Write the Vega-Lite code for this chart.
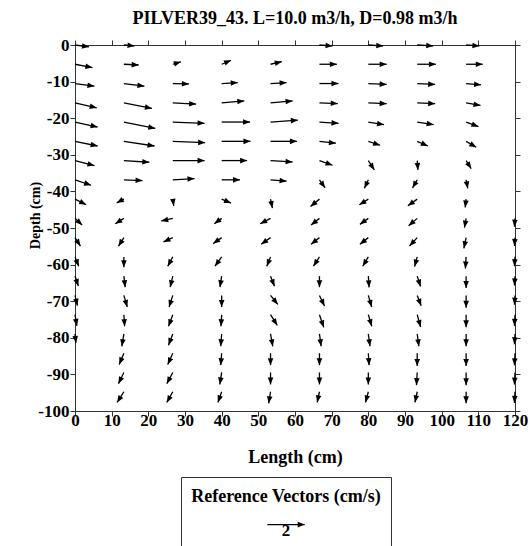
{
  "$schema": "https://vega.github.io/schema/vega-lite/v6.json",
  "padding": {"left": 28, "top": 9, "right": 0, "bottom": 0},
  "background": "white",
  "spacing": 9,
  "config": {
    "view": {"stroke": "#333", "strokeWidth": 1},
    "font": "Liberation Serif",
    "axis": {
      "domainColor": "#333", "tickColor": "#333", "grid": false,
      "labelFont": "Liberation Serif", "labelFontWeight": "bold", "labelFontSize": 17, "labelColor": "black",
      "titleFont": "Liberation Serif", "titleFontWeight": "bold", "titleFontSize": 18, "titleColor": "black",
      "tickSize": 5, "labelFlush": false, "labelOverlap": false, "labelBound": false
    },
    "title": {"font": "Liberation Serif", "fontWeight": "bold", "fontSize": 18, "color": "black"}
  },
  "vconcat": [
    {
      "width": 440,
      "height": 366,
      "title": {"text": "PILVER39_43. L=10.0 m3/h, D=0.98 m3/h", "offset": 8},
      "data": {"values": [
        {"x":0,"y":0,"u":0.75,"v":-0.1},{"x":0,"y":-5.26,"u":0.93,"v":-0.18},{"x":0,"y":-10.53,"u":1.04,"v":-0.14},{"x":0,"y":-15.79,"u":1.16,"v":-0.27},{"x":0,"y":-21.05,"u":1.21,"v":-0.27},{"x":0,"y":-26.32,"u":1.21,"v":-0.25},{"x":0,"y":-31.58,"u":1.04,"v":-0.27},{"x":0,"y":-36.84,"u":0.86,"v":-0.29},{"x":0,"y":-42.11,"u":0.6,"v":-0.3},{"x":0,"y":-47.37,"u":0.38,"v":-0.36},{"x":0,"y":-52.63,"u":0.29,"v":-0.45},{"x":0,"y":-57.89,"u":0.2,"v":-0.5},{"x":0,"y":-63.16,"u":0.18,"v":-0.53},{"x":0,"y":-68.42,"u":0.13,"v":-0.55},{"x":0,"y":-73.68,"u":0.1,"v":-0.6},{"x":0,"y":-78.95,"u":0.05,"v":-0.48},{"x":0,"y":-84.21,"u":0,"v":0},{"x":0,"y":-89.47,"u":0,"v":0},{"x":0,"y":-94.74,"u":0,"v":0},
        {"x":13.33,"y":0,"u":0.57,"v":-0.05},{"x":13.33,"y":-5.26,"u":0.79,"v":-0.04},{"x":13.33,"y":-10.53,"u":1.1,"v":-0.14},{"x":13.33,"y":-15.79,"u":1.5,"v":-0.3},{"x":13.33,"y":-21.05,"u":1.68,"v":-0.34},{"x":13.33,"y":-26.32,"u":1.64,"v":-0.25},{"x":13.33,"y":-31.58,"u":1.36,"v":-0.09},{"x":13.33,"y":-36.84,"u":1.0,"v":-0.04},{"x":13.33,"y":-42.11,"u":-0.38,"v":-0.2},{"x":13.33,"y":-47.37,"u":-0.46,"v":-0.29},{"x":13.33,"y":-52.63,"u":-0.29,"v":-0.46},{"x":13.33,"y":-57.89,"u":0,"v":-0.55},{"x":13.33,"y":-63.16,"u":0.07,"v":-0.59},{"x":13.33,"y":-68.42,"u":0.18,"v":-0.62},{"x":13.33,"y":-73.68,"u":0.04,"v":-0.62},{"x":13.33,"y":-78.95,"u":-0.11,"v":-0.66},{"x":13.33,"y":-84.21,"u":-0.25,"v":-0.6},{"x":13.33,"y":-89.47,"u":-0.29,"v":-0.6},{"x":13.33,"y":-94.74,"u":-0.36,"v":-0.57},
        {"x":26.67,"y":0,"u":0,"v":0},{"x":26.67,"y":-5.26,"u":0.43,"v":0.13},{"x":26.67,"y":-10.53,"u":0.86,"v":-0.02},{"x":26.67,"y":-15.79,"u":1.25,"v":-0.07},{"x":26.67,"y":-21.05,"u":1.7,"v":-0.07},{"x":26.67,"y":-26.32,"u":1.73,"v":-0.07},{"x":26.67,"y":-31.58,"u":1.7,"v":0},{"x":26.67,"y":-36.84,"u":1.16,"v":0.07},{"x":26.67,"y":-42.11,"u":0.05,"v":-0.36},{"x":26.67,"y":-47.37,"u":-0.62,"v":-0.14},{"x":26.67,"y":-52.63,"u":-0.5,"v":-0.23},{"x":26.67,"y":-57.89,"u":-0.27,"v":-0.5},{"x":26.67,"y":-63.16,"u":-0.14,"v":-0.59},{"x":26.67,"y":-68.42,"u":-0.2,"v":-0.62},{"x":26.67,"y":-73.68,"u":-0.23,"v":-0.62},{"x":26.67,"y":-78.95,"u":-0.23,"v":-0.6},{"x":26.67,"y":-84.21,"u":-0.27,"v":-0.6},{"x":26.67,"y":-89.47,"u":-0.32,"v":-0.6},{"x":26.67,"y":-94.74,"u":-0.32,"v":-0.57},
        {"x":40,"y":0,"u":0,"v":0},{"x":40,"y":-5.26,"u":0.5,"v":0.21},{"x":40,"y":-10.53,"u":0.86,"v":0.05},{"x":40,"y":-15.79,"u":1.21,"v":0.1},{"x":40,"y":-21.05,"u":1.52,"v":0},{"x":40,"y":-26.32,"u":1.54,"v":0},{"x":40,"y":-31.58,"u":1.36,"v":0},{"x":40,"y":-36.84,"u":0.98,"v":0},{"x":40,"y":-42.11,"u":0.5,"v":-0.21},{"x":40,"y":-47.37,"u":-0.39,"v":-0.29},{"x":40,"y":-52.63,"u":-0.45,"v":-0.32},{"x":40,"y":-57.89,"u":-0.36,"v":-0.5},{"x":40,"y":-63.16,"u":-0.09,"v":-0.59},{"x":40,"y":-68.42,"u":0,"v":-0.62},{"x":40,"y":-73.68,"u":-0.04,"v":-0.62},{"x":40,"y":-78.95,"u":-0.05,"v":-0.66},{"x":40,"y":-84.21,"u":-0.05,"v":-0.64},{"x":40,"y":-89.47,"u":-0.1,"v":-0.64},{"x":40,"y":-94.74,"u":-0.2,"v":-0.57},
        {"x":53.33,"y":0,"u":0,"v":0},{"x":53.33,"y":-5.26,"u":0.6,"v":0.14},{"x":53.33,"y":-10.53,"u":0.86,"v":0.05},{"x":53.33,"y":-15.79,"u":1.18,"v":0.1},{"x":53.33,"y":-21.05,"u":1.46,"v":0.1},{"x":53.33,"y":-26.32,"u":1.41,"v":0},{"x":53.33,"y":-31.58,"u":1.18,"v":-0.07},{"x":53.33,"y":-36.84,"u":0.86,"v":-0.07},{"x":53.33,"y":-42.11,"u":0.1,"v":-0.48},{"x":53.33,"y":-47.37,"u":-0.55,"v":-0.29},{"x":53.33,"y":-52.63,"u":-0.5,"v":-0.36},{"x":53.33,"y":-57.89,"u":-0.2,"v":-0.5},{"x":53.33,"y":-63.16,"u":0.21,"v":-0.54},{"x":53.33,"y":-68.42,"u":0.39,"v":-0.48},{"x":53.33,"y":-73.68,"u":0.36,"v":-0.57},{"x":53.33,"y":-78.95,"u":0.12,"v":-0.66},{"x":53.33,"y":-84.21,"u":0,"v":-0.64},{"x":53.33,"y":-89.47,"u":0,"v":-0.64},{"x":53.33,"y":-94.74,"u":-0.1,"v":-0.62},
        {"x":66.67,"y":0,"u":0.7,"v":-0.05},{"x":66.67,"y":-5.26,"u":0.93,"v":0},{"x":66.67,"y":-10.53,"u":1.02,"v":0},{"x":66.67,"y":-15.79,"u":0.98,"v":-0.04},{"x":66.67,"y":-21.05,"u":1.02,"v":-0.07},{"x":66.67,"y":-26.32,"u":0.88,"v":-0.1},{"x":66.67,"y":-31.58,"u":0.7,"v":-0.25},{"x":66.67,"y":-36.84,"u":0.3,"v":-0.43},{"x":66.67,"y":-42.11,"u":-0.48,"v":-0.39},{"x":66.67,"y":-47.37,"u":-0.45,"v":-0.36},{"x":66.67,"y":-52.63,"u":-0.45,"v":-0.36},{"x":66.67,"y":-57.89,"u":-0.32,"v":-0.5},{"x":66.67,"y":-63.16,"u":0,"v":-0.59},{"x":66.67,"y":-68.42,"u":0.27,"v":-0.57},{"x":66.67,"y":-73.68,"u":0.23,"v":-0.68},{"x":66.67,"y":-78.95,"u":0.09,"v":-0.66},{"x":66.67,"y":-84.21,"u":0,"v":-0.64},{"x":66.67,"y":-89.47,"u":0,"v":-0.64},{"x":66.67,"y":-94.74,"u":-0.12,"v":-0.57},
        {"x":80,"y":0,"u":0.8,"v":-0.05},{"x":80,"y":-5.26,"u":0.98,"v":0},{"x":80,"y":-10.53,"u":0.98,"v":-0.05},{"x":80,"y":-15.79,"u":0.98,"v":-0.05},{"x":80,"y":-21.05,"u":0.84,"v":-0.14},{"x":80,"y":-26.32,"u":0.63,"v":-0.21},{"x":80,"y":-31.58,"u":0.32,"v":-0.5},{"x":80,"y":-36.84,"u":-0.21,"v":-0.45},{"x":80,"y":-42.11,"u":-0.48,"v":-0.3},{"x":80,"y":-47.37,"u":-0.45,"v":-0.32},{"x":80,"y":-52.63,"u":-0.45,"v":-0.36},{"x":80,"y":-57.89,"u":-0.3,"v":-0.5},{"x":80,"y":-63.16,"u":0.04,"v":-0.6},{"x":80,"y":-68.42,"u":0.18,"v":-0.62},{"x":80,"y":-73.68,"u":0.18,"v":-0.62},{"x":80,"y":-78.95,"u":0.09,"v":-0.66},{"x":80,"y":-84.21,"u":0.04,"v":-0.64},{"x":80,"y":-89.47,"u":0,"v":-0.64},{"x":80,"y":-94.74,"u":-0.15,"v":-0.57},
        {"x":93.33,"y":0,"u":0.86,"v":-0.05},{"x":93.33,"y":-5.26,"u":1.0,"v":0},{"x":93.33,"y":-10.53,"u":0.96,"v":-0.05},{"x":93.33,"y":-15.79,"u":0.96,"v":-0.05},{"x":93.33,"y":-21.05,"u":0.88,"v":-0.14},{"x":93.33,"y":-26.32,"u":0.57,"v":-0.25},{"x":93.33,"y":-31.58,"u":0.04,"v":-0.5},{"x":93.33,"y":-36.84,"u":-0.25,"v":-0.43},{"x":93.33,"y":-42.11,"u":-0.5,"v":-0.36},{"x":93.33,"y":-47.37,"u":-0.46,"v":-0.39},{"x":93.33,"y":-52.63,"u":-0.41,"v":-0.45},{"x":93.33,"y":-57.89,"u":-0.14,"v":-0.52},{"x":93.33,"y":-63.16,"u":0.18,"v":-0.55},{"x":93.33,"y":-68.42,"u":0.21,"v":-0.55},{"x":93.33,"y":-73.68,"u":0.18,"v":-0.66},{"x":93.33,"y":-78.95,"u":0.09,"v":-0.66},{"x":93.33,"y":-84.21,"u":0,"v":-0.68},{"x":93.33,"y":-89.47,"u":-0.04,"v":-0.68},{"x":93.33,"y":-94.74,"u":-0.12,"v":-0.57},
        {"x":106.67,"y":0,"u":0.71,"v":-0.05},{"x":106.67,"y":-5.26,"u":0.89,"v":0},{"x":106.67,"y":-10.53,"u":0.8,"v":-0.07},{"x":106.67,"y":-15.79,"u":0.77,"v":-0.14},{"x":106.67,"y":-21.05,"u":0.66,"v":-0.25},{"x":106.67,"y":-26.32,"u":0.54,"v":-0.32},{"x":106.67,"y":-31.58,"u":0.27,"v":-0.43},{"x":106.67,"y":-36.84,"u":0.09,"v":-0.46},{"x":106.67,"y":-42.11,"u":-0.05,"v":-0.45},{"x":106.67,"y":-47.37,"u":-0.09,"v":-0.5},{"x":106.67,"y":-52.63,"u":-0.12,"v":-0.57},{"x":106.67,"y":-57.89,"u":-0.04,"v":-0.62},{"x":106.67,"y":-63.16,"u":0,"v":-0.64},{"x":106.67,"y":-68.42,"u":0,"v":-0.66},{"x":106.67,"y":-73.68,"u":0,"v":-0.68},{"x":106.67,"y":-78.95,"u":0,"v":-0.66},{"x":106.67,"y":-84.21,"u":0,"v":-0.68},{"x":106.67,"y":-89.47,"u":0,"v":-0.68},{"x":106.67,"y":-94.74,"u":0,"v":-0.62},
        {"x":120,"y":0,"u":0,"v":0},{"x":120,"y":-5.26,"u":0,"v":0},{"x":120,"y":-10.53,"u":0,"v":0},{"x":120,"y":-15.79,"u":0,"v":0},{"x":120,"y":-21.05,"u":0,"v":0},{"x":120,"y":-26.32,"u":0,"v":0},{"x":120,"y":-31.58,"u":0,"v":0},{"x":120,"y":-36.84,"u":0,"v":0},{"x":120,"y":-42.11,"u":0,"v":0},{"x":120,"y":-47.37,"u":-0.03,"v":-0.45},{"x":120,"y":-52.63,"u":-0.03,"v":-0.45},{"x":120,"y":-57.89,"u":-0.03,"v":-0.5},{"x":120,"y":-63.16,"u":-0.03,"v":-0.5},{"x":120,"y":-68.42,"u":-0.03,"v":-0.5},{"x":120,"y":-73.68,"u":-0.03,"v":-0.6},{"x":120,"y":-78.95,"u":-0.03,"v":-0.55},{"x":120,"y":-84.21,"u":-0.03,"v":-0.65},{"x":120,"y":-89.47,"u":-0.03,"v":-0.65},{"x":120,"y":-94.74,"u":-0.03,"v":-0.6}
      ]},
      "transform": [
        {"filter": "datum.u != 0 || datum.v != 0"},
        {"calculate": "datum.x + datum.u * 5.1", "as": "xe"},
        {"calculate": "datum.y + datum.v * 5.1", "as": "ye"},
        {"calculate": "atan2(-datum.v, datum.u) * 180 / PI", "as": "ang"}
      ],
      "layer": [
        {
          "mark": {"type": "rule", "color": "black", "strokeWidth": 1.3},
          "encoding": {
            "x": {"field": "x", "type": "quantitative",
                  "scale": {"domain": [0, 120], "nice": false, "zero": false},
                  "axis": {"orient": "bottom", "title": "Length (cm)", "values": [0,10,20,30,40,50,60,70,80,90,100,110,120], "labelPadding": -4, "titlePadding": 20}},
            "y": {"field": "y", "type": "quantitative",
                  "scale": {"domain": [-100, 0], "nice": false, "zero": false},
                  "axis": {"orient": "left", "title": "Depth (cm)", "titleFontSize": 14, "titleY": 170, "values": [-100,-90,-80,-70,-60,-50,-40,-30,-20,-10,0], "labelExpr": "'' + datum.value", "labelPadding": 1, "titlePadding": -5}},
            "x2": {"field": "xe"},
            "y2": {"field": "ye"}
          }
        },
        {
          "mark": {"type": "point", "shape": "M0,0L-2,-0.8L-2,0.8Z", "filled": true, "color": "black", "size": 49, "opacity": 1, "strokeWidth": 0},
          "encoding": {
            "x": {"field": "xe", "type": "quantitative", "axis": null},
            "y": {"field": "ye", "type": "quantitative", "axis": null},
            "angle": {"field": "ang", "type": "quantitative", "scale": null}
          }
        },
        {
          "mark": {"type": "point", "opacity": 0},
          "encoding": {
            "x": {"field": "x", "type": "quantitative", "axis": {"orient": "top", "labels": false, "title": null, "minExtent": 0, "values": [0,10,20,30,40,50,60,70,80,90,100,110,120]}},
            "y": {"field": "y", "type": "quantitative", "axis": {"orient": "right", "labels": false, "title": null, "minExtent": 0, "values": [-100,-90,-80,-70,-60,-50,-40,-30,-20,-10,0]}}
          }
        }
      ],
      "resolve": {"axis": {"x": "independent", "y": "independent"}}
    },
    {
      "spacing": 0,
      "hconcat": [
        {
          "width": 104.5,
          "height": 80,
          "view": {"stroke": null},
          "data": {"values": []},
          "mark": {"type": "point", "opacity": 0},
          "encoding": {}
        },
        {
          "width": 210,
          "height": 80,
          "title": {"text": "Reference Vectors (cm/s)", "offset": -28.5, "fontSize": 18},
          "data": {"values": [{"u": 2, "label": "2"}]},
          "transform": [
            {"calculate": "-datum.u / 2", "as": "x0"},
            {"calculate": "datum.u / 2", "as": "x1"}
          ],
          "layer": [
            {
              "mark": {"type": "rule", "color": "black", "strokeWidth": 1.3},
              "encoding": {
                "x": {"field": "x0", "type": "quantitative", "scale": {"domain": [-5.615, 5.615], "nice": false, "zero": false}, "axis": null},
                "x2": {"field": "x1"},
                "y": {"datum": 0, "type": "quantitative", "scale": {"domain": [-0.68, 1], "nice": false, "zero": false}, "axis": null}
              }
            },
            {
              "mark": {"type": "point", "shape": "M0,0L-2,-0.8L-2,0.8Z", "filled": true, "color": "black", "size": 49, "opacity": 1, "strokeWidth": 0},
              "encoding": {
                "x": {"field": "x1", "type": "quantitative", "axis": null},
                "y": {"datum": 0, "type": "quantitative", "axis": null}
              }
            },
            {
              "mark": {"type": "text", "dy": 11, "baseline": "alphabetic", "font": "Liberation Serif", "fontWeight": "bold", "fontSize": 17, "color": "black"},
              "encoding": {
                "x": {"datum": 0, "type": "quantitative", "axis": null},
                "y": {"datum": 0, "type": "quantitative", "axis": null},
                "text": {"field": "label"}
              }
            }
          ]
        }
      ]
    }
  ]
}
